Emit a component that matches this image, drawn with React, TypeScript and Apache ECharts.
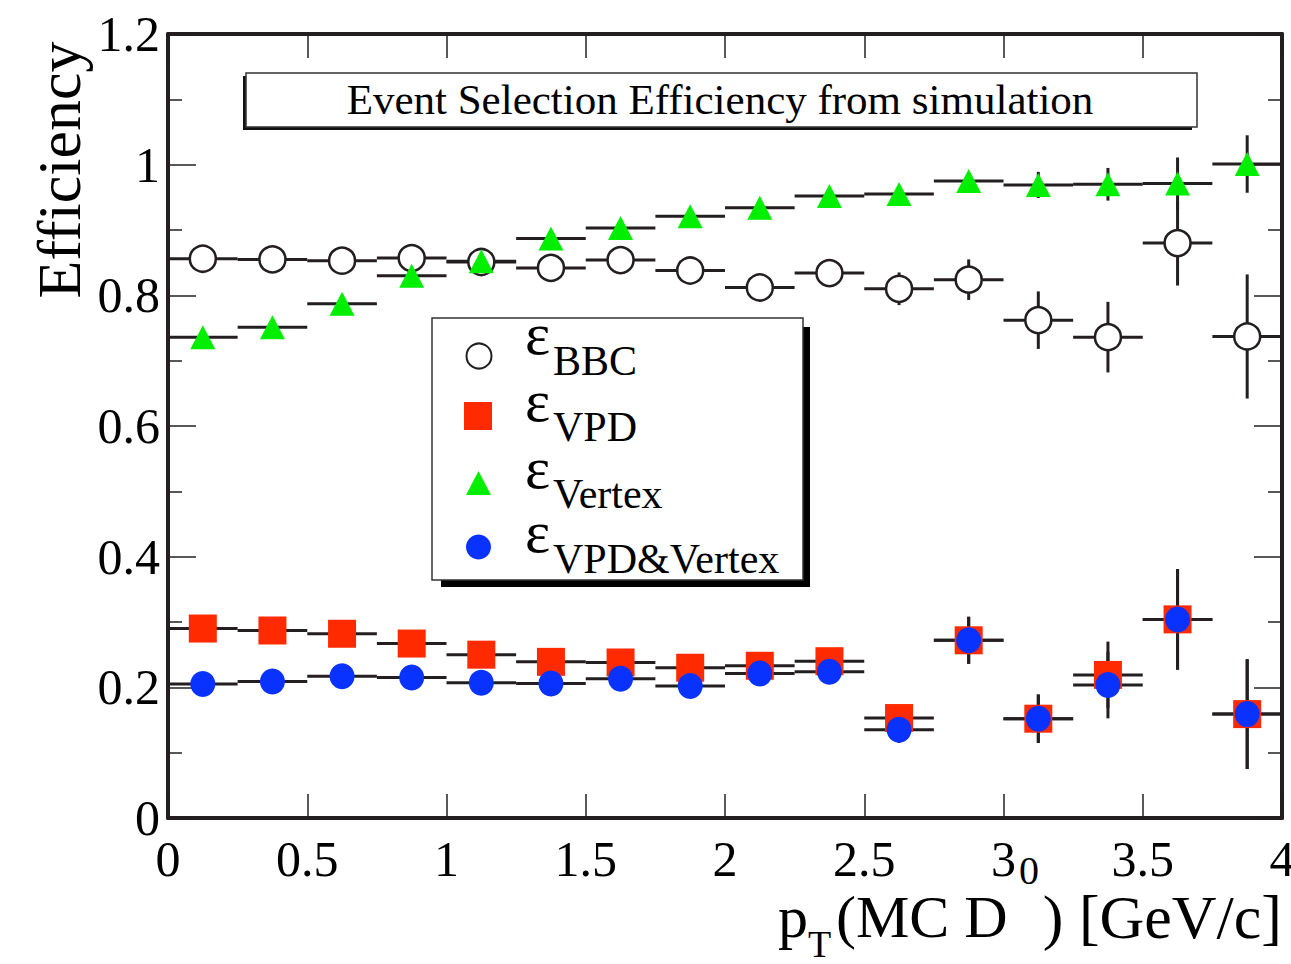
import React, { useEffect, useRef } from "react";
import * as echarts from "echarts";

// Bin centres of p_T (MC D0) in GeV/c, bin width 0.25
const ptBins = [0.125, 0.375, 0.625, 0.875, 1.125, 1.375, 1.625, 1.875, 2.125, 2.375, 2.625, 2.875, 3.125, 3.375, 3.625, 3.875];
const binHalfWidth = 0.125;

const bbcEff = [0.856, 0.855, 0.853, 0.857, 0.851, 0.842, 0.854, 0.838, 0.812, 0.834, 0.810, 0.824, 0.762, 0.736, 0.880, 0.737];
const bbcErr = [0.004, 0.004, 0.005, 0.005, 0.006, 0.007, 0.008, 0.009, 0.011, 0.013, 0.025, 0.031, 0.044, 0.054, 0.065, 0.095];

const vpdEff = [0.290, 0.287, 0.282, 0.267, 0.250, 0.239, 0.238, 0.230, 0.233, 0.240, 0.153, 0.272, 0.152, 0.219, 0.304, 0.159];
const vpdErr = [0.005, 0.005, 0.006, 0.006, 0.007, 0.008, 0.009, 0.010, 0.011, 0.013, 0.020, 0.036, 0.037, 0.051, 0.077, 0.084];

const vertexEff = [0.736, 0.751, 0.787, 0.830, 0.852, 0.887, 0.903, 0.921, 0.934, 0.952, 0.955, 0.975, 0.969, 0.970, 0.971, 1.001];
const vertexErr = [0.004, 0.004, 0.004, 0.004, 0.004, 0.004, 0.005, 0.005, 0.006, 0.007, 0.008, 0.012, 0.020, 0.025, 0.040, 0.044];

const bothEff = [0.205, 0.209, 0.217, 0.215, 0.207, 0.206, 0.213, 0.202, 0.221, 0.224, 0.135, 0.272, 0.152, 0.2035, 0.304, 0.159];
const bothErr = [0.004, 0.004, 0.005, 0.005, 0.006, 0.006, 0.007, 0.008, 0.009, 0.011, 0.020, 0.036, 0.037, 0.051, 0.077, 0.084];

const xTitleParts = { p: "p", sub: "T", mid: "(MC D", sup: "0", tail: ") [GeV/c]" };
const yTitle = "Efficiency";
const plotTitle = "Event Selection Efficiency from simulation";
const legendLabels = ["BBC", "VPD", "Vertex", "VPD&Vertex"];

const FONT = "'Liberation Serif', 'DejaVu Serif', serif";
const INK = "#231f20";
const RED = "#ff2a00";
const GREEN = "#00ee00";
const BLUE = "#0a32ff";

const points = (vals: number[], errs: number[]) => ptBins.map((x, i) => [x, vals[i], errs[i]]);
const centres = (vals: number[]) => ptBins.map((x, i) => [x, vals[i]]);

function errorBars(name: string, vals: number[], errs: number[]) {
  return {
    name: name + " errors",
    type: "custom",
    z: 2,
    silent: true,
    data: points(vals, errs),
    encode: { x: 0, y: 1 },
    renderItem: (_params: any, api: any) => {
      const x = api.value(0);
      const y = api.value(1);
      const e = api.value(2);
      const l = api.coord([x - binHalfWidth, y]);
      const r = api.coord([x + binHalfWidth, y]);
      const t = api.coord([x, y + e]);
      const b = api.coord([x, y - e]);
      const style = { stroke: INK, lineWidth: 3 };
      return {
        type: "group",
        children: [
          { type: "line", shape: { x1: l[0], y1: l[1], x2: r[0], y2: r[1] }, style },
          { type: "line", shape: { x1: t[0], y1: t[1], x2: b[0], y2: b[1] }, style },
        ],
      };
    },
  };
}

function axisCommon() {
  return {
    axisLine: { show: true, onZero: false, lineStyle: { color: INK, width: 4 } },
    splitLine: { show: false },
  };
}

// baselines of the epsilon glyphs and of their subscripts in the legend
const epsRows = [353, 420, 487, 551];
const subRows = [374, 440, 507, 572];

export default function App() {
  const ref = useRef<HTMLDivElement>(null);

  useEffect(() => {
    if (!ref.current) return;
    const chart = echarts.init(ref.current, null, { renderer: "svg" });

    const legendGraphics: any[] = [
      { type: "rect", shape: { x: 441, y: 327, width: 369, height: 260 }, style: { fill: "#000" }, z: 10 },
      { type: "rect", shape: { x: 432, y: 318, width: 371, height: 262 }, style: { fill: "#fff", stroke: "#333", lineWidth: 1.5 }, z: 11 },
      { type: "circle", shape: { cx: 479, cy: 356, r: 12.5 }, style: { fill: "#fff", stroke: INK, lineWidth: 2 }, z: 12 },
      { type: "rect", shape: { x: 464, y: 402, width: 28, height: 28 }, style: { fill: RED }, z: 12 },
      { type: "polygon", shape: { points: [[466, 495], [491, 495], [478.5, 471]] }, style: { fill: GREEN }, z: 12 },
      { type: "circle", shape: { cx: 478.5, cy: 547, r: 12.5 }, style: { fill: BLUE }, z: 12 },
    ];
    legendLabels.forEach((lab, i) => {
      legendGraphics.push({
        type: "text", x: 525, y: epsRows[i] - 19, z: 12,
        style: { text: "ε", font: `60px ${FONT}`, fill: "#000", align: "left", verticalAlign: "middle" },
      });
      legendGraphics.push({
        type: "text", x: 553, y: subRows[i] - 13, z: 12,
        style: { text: lab, font: `42px ${FONT}`, fill: "#000", align: "left", verticalAlign: "middle" },
      });
    });

    const option: any = {
      animation: false,
      backgroundColor: "#fff",
      grid: { left: 168, right: 9, top: 34, bottom: 146, outerBoundsMode: "none" },
      xAxis: [
        {
          type: "value", min: 0, max: 4, interval: 0.5, position: "bottom",
          ...axisCommon(),
          axisTick: { show: true, inside: true, length: 24, lineStyle: { color: INK, width: 1.5 } },
          axisLabel: { fontSize: 50, fontFamily: FONT, color: "#000", margin: 16 },
        },
        {
          type: "value", min: 0, max: 4, interval: 0.5, position: "top",
          ...axisCommon(),
          axisTick: { show: true, inside: true, length: 24, lineStyle: { color: INK, width: 1.5 } },
          axisLabel: { show: false },
        },
      ],
      yAxis: [
        {
          type: "value", min: 0, max: 1.2, interval: 0.2, position: "left",
          ...axisCommon(),
          axisTick: { show: true, inside: true, length: 28, lineStyle: { color: INK, width: 1.5 } },
          minorTick: { show: true, splitNumber: 2, length: 14, lineStyle: { color: INK, width: 1.5 } },
          axisLabel: { fontSize: 50, fontFamily: FONT, color: "#000", margin: 8 },
        },
        {
          type: "value", min: 0, max: 1.2, interval: 0.2, position: "right",
          ...axisCommon(),
          axisTick: { show: true, inside: true, length: 28, lineStyle: { color: INK, width: 1.5 } },
          minorTick: { show: true, splitNumber: 2, length: 14, lineStyle: { color: INK, width: 1.5 } },
          axisLabel: { show: false },
        },
      ],
      series: [
        errorBars("BBC", bbcEff, bbcErr),
        errorBars("VPD", vpdEff, vpdErr),
        errorBars("Vertex", vertexEff, vertexErr),
        errorBars("VPD&Vertex", bothEff, bothErr),
        {
          name: "BBC", type: "scatter", z: 3, data: centres(bbcEff), symbol: "circle", symbolSize: 26,
          itemStyle: { color: "#fff", borderColor: INK, borderWidth: 2.5, opacity: 1 },
        },
        {
          name: "VPD", type: "scatter", z: 3, data: centres(vpdEff), symbol: "rect", symbolSize: 28,
          itemStyle: { color: RED, opacity: 1 },
        },
        {
          name: "Vertex", type: "scatter", z: 3, data: centres(vertexEff), symbol: "triangle", symbolSize: [25, 24],
          itemStyle: { color: GREEN, opacity: 1 },
        },
        {
          name: "VPD&Vertex", type: "scatter", z: 3, data: centres(bothEff), symbol: "circle", symbolSize: [25, 26],
          itemStyle: { color: BLUE, opacity: 1 },
        },
      ],
      graphic: [
        // title box with offset shadow
        { type: "rect", shape: { x: 243, y: 76, width: 949, height: 54 }, style: { fill: "#111" }, z: 10 },
        { type: "rect", shape: { x: 246, y: 73, width: 951, height: 54 }, style: { fill: "#fff", stroke: "#333", lineWidth: 1.5 }, z: 11 },
        {
          type: "text", x: 720, y: 99, z: 12,
          style: { text: plotTitle, font: `43px ${FONT}`, fill: "#000", align: "center", verticalAlign: "middle" },
        },
        ...legendGraphics,
        // y axis title
        {
          type: "text", x: 59, y: 170, rotation: Math.PI / 2, z: 12,
          style: { text: yTitle, font: `62px ${FONT}`, fill: "#000", align: "center", verticalAlign: "middle" },
        },
        // x axis title pieces: p_T (MC D^0) [GeV/c]
        { type: "text", x: 778, y: 917, z: 12, style: { text: xTitleParts.p, font: `60px ${FONT}`, fill: "#000", align: "left", verticalAlign: "middle" } },
        { type: "text", x: 808, y: 944, z: 12, style: { text: xTitleParts.sub, font: `38px ${FONT}`, fill: "#000", align: "left", verticalAlign: "middle" } },
        { type: "text", x: 836, y: 917, z: 12, style: { text: xTitleParts.mid, font: `60px ${FONT}`, fill: "#000", align: "left", verticalAlign: "middle" } },
        { type: "text", x: 1019, y: 870, z: 12, style: { text: xTitleParts.sup, font: `40px ${FONT}`, fill: "#000", align: "left", verticalAlign: "middle" } },
        { type: "text", x: 1282, y: 917, z: 12, style: { text: xTitleParts.tail, font: `62px ${FONT}`, fill: "#000", align: "right", verticalAlign: "middle" } },
      ],
    };

    chart.setOption(option);
    return () => chart.dispose();
  }, []);

  return (
    <div
      ref={ref}
      style={{ position: "fixed", left: 0, top: 0, width: 1291, height: 964, background: "#fff" }}
    />
  );
}
